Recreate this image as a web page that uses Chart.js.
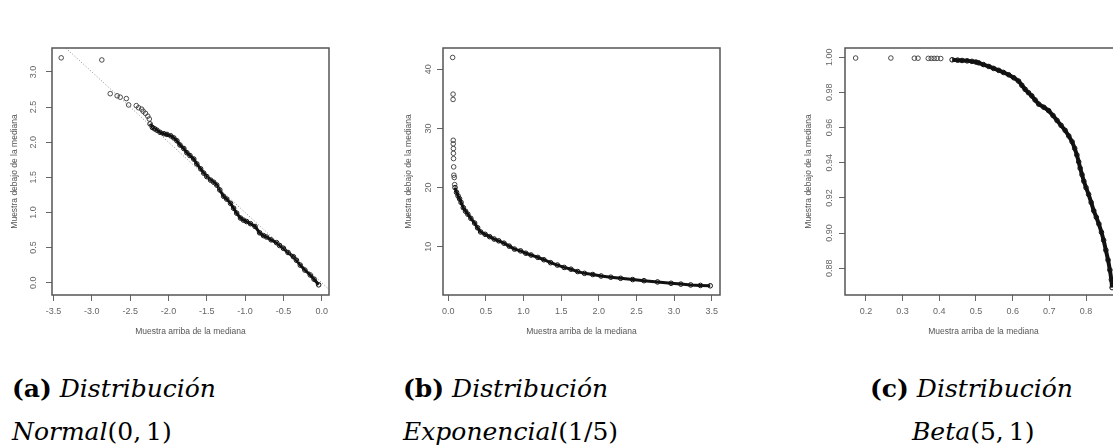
<!DOCTYPE html>
<html lang="es">
<head>
<meta charset="utf-8">
<title>Muestras respecto a la mediana</title>
<script src="https://cdn.jsdelivr.net/npm/chart.js@4.4.1/dist/chart.umd.min.js"></script>
<style>
  html, body { margin: 0; padding: 0; background: #fff; }
  body { position: relative; width: 1113px; height: 448px; overflow: hidden; }
  canvas { position: absolute; top: 0; }
  #graficoNormal { left: 0; }
  #graficoExpo { left: 380px; }
  #graficoBeta { left: 760px; }
  .leyenda { position: absolute; font-family: 'DejaVu Serif', serif; font-size: 25px; line-height: 1; white-space: nowrap; color: #000; }
</style>
</head>
<body>
<canvas id="graficoNormal" width="375" height="345"></canvas>
<canvas id="graficoExpo" width="360" height="345"></canvas>
<canvas id="graficoBeta" width="400" height="345"></canvas>

<div class="leyenda" style="left:12px; top:376px"><b>(a)</b> <i>Distribución</i></div>
<div class="leyenda" style="left:12px; top:419px"><i>Normal</i>(0,&thinsp;1)</div>
<div class="leyenda" style="left:403px; top:376px"><b>(b)</b> <i>Distribución</i></div>
<div class="leyenda" style="left:403px; top:419px"><i>Exponencial</i>(1/5)</div>
<div class="leyenda" style="left:870px; top:376px"><b>(c)</b> <i>Distribución</i></div>
<div class="leyenda" style="left:912px; top:419px"><i>Beta</i>(5,&thinsp;1)</div>

<script>
// textos de los ejes
const tituloX = 'Muestra arriba de la mediana'
const tituloY = 'Muestra debajo de la mediana'

// (a) Normal(0,1)
const normalTicksX = [-3.5, -3.0, -2.5, -2.0, -1.5, -1.0, -0.5, 0.0]
const normalTicksY = [0.0, 0.5, 1.0, 1.5, 2.0, 2.5, 3.0]
const normalSueltosX = [-3.40, -2.87, -2.76, -2.67, -2.63, -2.55, -2.52, -2.42, -2.39, -2.35, -2.33, -2.30, -2.27, -2.25]
const normalSueltosY = [3.20, 3.17, 2.69, 2.66, 2.64, 2.62, 2.53, 2.52, 2.49, 2.47, 2.44, 2.41, 2.37, 2.33]
const normalDensosX = [-2.24, -2.21, -2.18, -2.15, -2.11, -2.06, -2.02, -1.97, -1.93, -1.89, -1.85, -1.80, -1.76, -1.72, -1.67, -1.63, -1.58, -1.54, -1.50, -1.45, -1.41, -1.37, -1.33, -1.28, -1.24, -1.19, -1.15, -1.11, -1.06, -1.02, -0.98, -0.93, -0.87, -0.81, -0.76, -0.72, -0.66, -0.59, -0.55, -0.50, -0.44, -0.37, -0.33, -0.28, -0.22, -0.15, -0.10, -0.04]
const normalDensosY = [2.26, 2.21, 2.19, 2.17, 2.14, 2.12, 2.11, 2.09, 2.06, 2.02, 1.96, 1.91, 1.85, 1.81, 1.76, 1.69, 1.62, 1.56, 1.51, 1.46, 1.43, 1.39, 1.32, 1.23, 1.19, 1.13, 1.06, 0.99, 0.92, 0.89, 0.87, 0.84, 0.80, 0.71, 0.67, 0.65, 0.61, 0.57, 0.53, 0.49, 0.43, 0.37, 0.32, 0.25, 0.18, 0.11, 0.05, -0.03]
const normalRectaX = [-3.6, 0.2]
const normalRectaY = [3.6, -0.2]

// (b) Exponencial(1/5)
const expoTicksX = [0.0, 0.5, 1.0, 1.5, 2.0, 2.5, 3.0, 3.5]
const expoTicksY = [10, 20, 30, 40]
const expoSueltosX = [0.058, 0.064, 0.064, 0.066, 0.066, 0.068, 0.068, 0.070, 0.072, 0.074, 0.080, 0.085]
const expoSueltosY = [42.0, 35.8, 34.9, 28.0, 27.4, 26.6, 25.8, 24.9, 23.5, 22.1, 21.7, 20.5]
const expoDensosX = [0.09, 0.11, 0.13, 0.15, 0.17, 0.20, 0.23, 0.26, 0.30, 0.35, 0.39, 0.43, 0.49, 0.55, 0.61, 0.67, 0.74, 0.81, 0.88, 0.96, 1.03, 1.10, 1.19, 1.27, 1.36, 1.45, 1.54, 1.63, 1.72, 1.81, 1.92, 2.03, 2.16, 2.29, 2.45, 2.60, 2.78, 2.96, 3.09, 3.22, 3.35, 3.48]
const expoDensosY = [20.0, 19.2, 18.6, 18.1, 17.5, 16.6, 16.0, 15.5, 14.8, 14.0, 13.2, 12.5, 12.1, 11.7, 11.3, 11.0, 10.6, 10.1, 9.6, 9.3, 8.9, 8.6, 8.2, 7.8, 7.3, 6.9, 6.5, 6.2, 5.8, 5.5, 5.3, 5.05, 4.85, 4.66, 4.45, 4.26, 4.05, 3.82, 3.68, 3.54, 3.46, 3.40]

// (c) Beta(5,1)
const betaTicksX = [0.2, 0.3, 0.4, 0.5, 0.6, 0.7, 0.8]
const betaTicksY = [0.88, 0.90, 0.92, 0.94, 0.96, 0.98, 1.00]
const betaSueltosX = [0.172, 0.268, 0.332, 0.342, 0.370, 0.378, 0.386, 0.394, 0.404]
const betaSueltosY = [0.9995, 0.9995, 0.9994, 0.9994, 0.9993, 0.9993, 0.9993, 0.9993, 0.9992]
const betaDensosX = [0.435, 0.45, 0.462, 0.476, 0.489, 0.50, 0.507, 0.52, 0.535, 0.548, 0.562, 0.575, 0.589, 0.603, 0.616, 0.625, 0.634, 0.643, 0.652, 0.661, 0.671, 0.685, 0.698, 0.71, 0.721, 0.732, 0.743, 0.753, 0.762, 0.769, 0.775, 0.780, 0.784, 0.789, 0.794, 0.800, 0.807, 0.814, 0.821, 0.828, 0.835, 0.842, 0.848, 0.854, 0.860, 0.865, 0.869, 0.871]
const betaDensosY = [0.9985, 0.9983, 0.9981, 0.9979, 0.9976, 0.9972, 0.9968, 0.9958, 0.9947, 0.9936, 0.9925, 0.9913, 0.9900, 0.9883, 0.9864, 0.9840, 0.9817, 0.9798, 0.9780, 0.9757, 0.9733, 0.9715, 0.9696, 0.9668, 0.9640, 0.9612, 0.9584, 0.9552, 0.9519, 0.9482, 0.9444, 0.9405, 0.9369, 0.9332, 0.9295, 0.9258, 0.9220, 0.9174, 0.9127, 0.9090, 0.9052, 0.9005, 0.8959, 0.8903, 0.8847, 0.8790, 0.8735, 0.8690]

const fuenteTicks = { family: "'Liberation Sans', Arial, sans-serif", size: 9 }
const fuenteTitulo = { family: "'Liberation Sans', Arial, sans-serif", size: 8.5 }

function puntos(xs, ys) {
  return xs.map((x, i) => ({ x, y: ys[i] }))
}

// recuadro tipo R alrededor del area de dibujo
const marco = {
  id: 'marco',
  afterDatasetsDraw(chart) {
    const { ctx, chartArea: a } = chart
    ctx.save()
    ctx.strokeStyle = '#555'
    ctx.lineWidth = 1.5
    ctx.strokeRect(a.left, a.top, a.right - a.left, a.bottom - a.top)
    ctx.restore()
  }
}

function ejeX(min, max, valores, decimales) {
  return {
    type: 'linear',
    min,
    max,
    afterFit: (escala) => { escala.height = 50 },
    afterBuildTicks: (escala) => { escala.ticks = valores.map((v) => ({ value: v })) },
    grid: { drawOnChartArea: false, tickLength: 6, tickColor: '#666', tickWidth: 1 },
    border: { display: false },
    ticks: {
      autoSkip: false,
      maxRotation: 0,
      padding: 5,
      color: '#666',
      font: fuenteTicks,
      callback: (v) => Number(v).toFixed(decimales)
    },
    title: { display: true, text: tituloX, color: '#555', font: fuenteTitulo, padding: { top: 0, bottom: 8 } }
  }
}

function ejeY(min, max, valores, decimales, ancho, padTicks, padTitulo) {
  return {
    type: 'linear',
    min,
    max,
    afterFit: (escala) => { escala.width = ancho },
    afterBuildTicks: (escala) => { escala.ticks = valores.map((v) => ({ value: v })) },
    grid: { drawOnChartArea: false, tickLength: 6, tickColor: '#666', tickWidth: 1 },
    border: { display: false },
    ticks: {
      autoSkip: false,
      minRotation: 90,
      maxRotation: 90,
      crossAlign: 'center',
      padding: padTicks,
      color: '#666',
      font: fuenteTicks,
      callback: (v) => Number(v).toFixed(decimales)
    },
    title: { display: true, text: tituloY, color: '#555', font: fuenteTitulo, padding: { top: padTitulo, bottom: 0 } }
  }
}

function sueltos(data) {
  return {
    data,
    showLine: false,
    pointRadius: 2.3,
    pointBorderWidth: 0.9,
    pointBorderColor: '#3a3a3a',
    pointBackgroundColor: 'rgba(0,0,0,0)'
  }
}

function densos(data, grosor) {
  return {
    data,
    showLine: true,
    borderColor: '#111',
    borderWidth: grosor,
    pointRadius: 2.3,
    pointBorderWidth: 1,
    pointBorderColor: '#111',
    pointBackgroundColor: 'rgba(0,0,0,0)'
  }
}

function crearGrafico(id, datasets, escalaX, escalaY, relleno) {
  return new Chart(document.getElementById(id), {
    type: 'scatter',
    data: { datasets },
    options: {
      responsive: false,
      animation: false,
      events: [],
      layout: { padding: relleno },
      plugins: { legend: { display: false }, tooltip: { enabled: false } },
      scales: { x: escalaX, y: escalaY }
    },
    plugins: [marco]
  })
}

crearGrafico(
  'graficoNormal',
  [
    {
      data: puntos(normalRectaX, normalRectaY),
      showLine: true,
      clip: 0,
      borderColor: '#8a8a8a',
      borderWidth: 1,
      borderDash: [1, 2],
      pointRadius: 0
    },
    sueltos(puntos(normalSueltosX, normalSueltosY)),
    densos(puntos(normalDensosX, normalDensosY), 3)
  ],
  ejeX(-3.52, 0.095, normalTicksX, 1),
  ejeY(-0.175, 3.34, normalTicksY, 1, 52, 6.5, 10),
  { top: 48, right: 46, bottom: 0, left: 0 }
)

crearGrafico(
  'graficoExpo',
  [
    sueltos(puntos(expoSueltosX, expoSueltosY)),
    densos(puntos(expoDensosX, expoDensosY), 3)
  ],
  ejeX(-0.07, 3.61, expoTicksX, 1),
  ejeY(1.84, 43.6, expoTicksY, 0, 63, 3, 24),
  { top: 48, right: 20, bottom: 0, left: 0 }
)

crearGrafico(
  'graficoBeta',
  [
    sueltos(puntos(betaSueltosX, betaSueltosY)),
    densos(puntos(betaDensosX, betaDensosY), 4)
  ],
  ejeX(0.143, 0.898, betaTicksX, 1),
  ejeY(0.8648, 1.0052, betaTicksY, 2, 85, 0.5, 44),
  { top: 48, right: 38, bottom: 0, left: 0 }
)
</script>
</body>
</html>
